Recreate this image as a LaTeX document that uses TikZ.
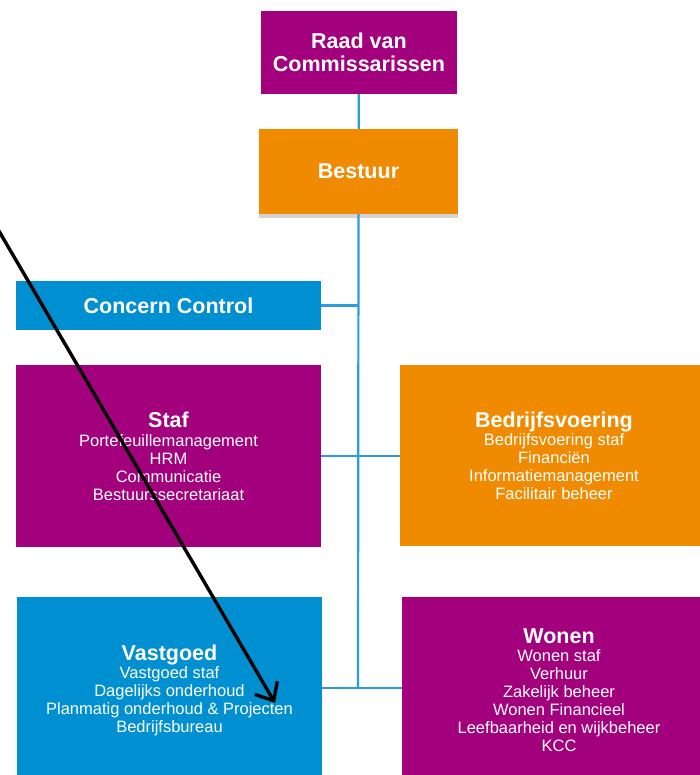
\documentclass[tikz,border=0pt]{standalone}
\usepackage{fontspec}
\setmainfont{Liberation Sans}
\usetikzlibrary{positioning,arrows.meta,shadows}
\definecolor{paars}{HTML}{A2007D}
\definecolor{oranje}{HTML}{F08A00}
\definecolor{blauw}{HTML}{0090D2}
\definecolor{lijnblauw}{HTML}{2A9DDA}
\newcommand{\koptekst}{\fontsize{21.5}{23}\selectfont\bfseries}

\begin{document}
\begin{tikzpicture}[x=1pt,y=-1pt,
    blok/.style={inner sep=0pt, text=white, align=center,
                 font=\fontsize{16.5}{18}\selectfont},
    kopblok/.style={blok, font=\koptekst},
    verbinding/.style={lijnblauw, line width=2.2pt},
    pijl/.style={black, line width=3.4pt, -{Straight Barb[length=15pt,width=26pt]}}]
    \useasboundingbox (0,0) rectangle (700,775);
    \clip (0,0) rectangle (700,775);

    % Top: toezicht en bestuur
    \node[kopblok, fill=paars, minimum width=196pt, minimum height=83pt] (raad) at (359,52.5) {Raad van\\Commissarissen};
    \node[kopblok, fill=oranje, minimum width=199pt, minimum height=85pt,
          drop shadow={shadow xshift=0pt, shadow yshift=-4pt, opacity=0.35}] (bestuur) at (358.5,171.5) {Bestuur};
    \node[kopblok, fill=blauw, minimum width=305pt, minimum height=49pt] (concern) at (168.5,305.5) {Concern Control};

    % Afdelingen
    \node[blok, fill=paars, minimum width=305pt, minimum height=182pt] (staf) at (168.5,456) {{\koptekst Staf}\\[1pt]Portefeuillemanagement\\HRM\\Communicatie\\Bestuurssecretariaat};
    \node[blok, fill=oranje, minimum width=308pt, minimum height=181pt] (bedrijf) at (554,455.5) {{\koptekst Bedrijfsvoering}\\Bedrijfsvoering staf\\Financiën\\Informatiemanagement\\Facilitair beheer};
    \node[blok, fill=blauw, minimum width=305pt, minimum height=186pt] (vastgoed) at (169.5,690) {{\koptekst Vastgoed}\\Vastgoed staf\\Dagelijks onderhoud\\Planmatig onderhoud \& Projecten\\Bedrijfsbureau};
    \node[blok, fill=paars, minimum width=314pt, minimum height=186pt] (wonen) at (559,690) {{\koptekst Wonen}\\Wonen staf\\Verhuur\\Zakelijk beheer\\Wonen Financieel\\Leefbaarheid en wijkbeheer\\KCC};

    % Lijnen
    \coordinate (knoop) at (358,688);
    \draw[verbinding] (raad) -- (bestuur);
    \draw[verbinding] (bestuur.south) -- (knoop);
    \draw[verbinding] (concern.east) -- (concern.east -| knoop);
    \draw[verbinding] (staf.east) -- (staf.east -| bedrijf.west);
    \draw[verbinding] (vastgoed.east |- knoop) -- (wonen.west |- knoop);

    % Pijl
    \coordinate (pijlstart) at (-4,226);
    \coordinate (pijlpunt) at (275,703);
    \draw[pijl] (pijlstart) -- (pijlpunt);
\end{tikzpicture}
\end{document}
